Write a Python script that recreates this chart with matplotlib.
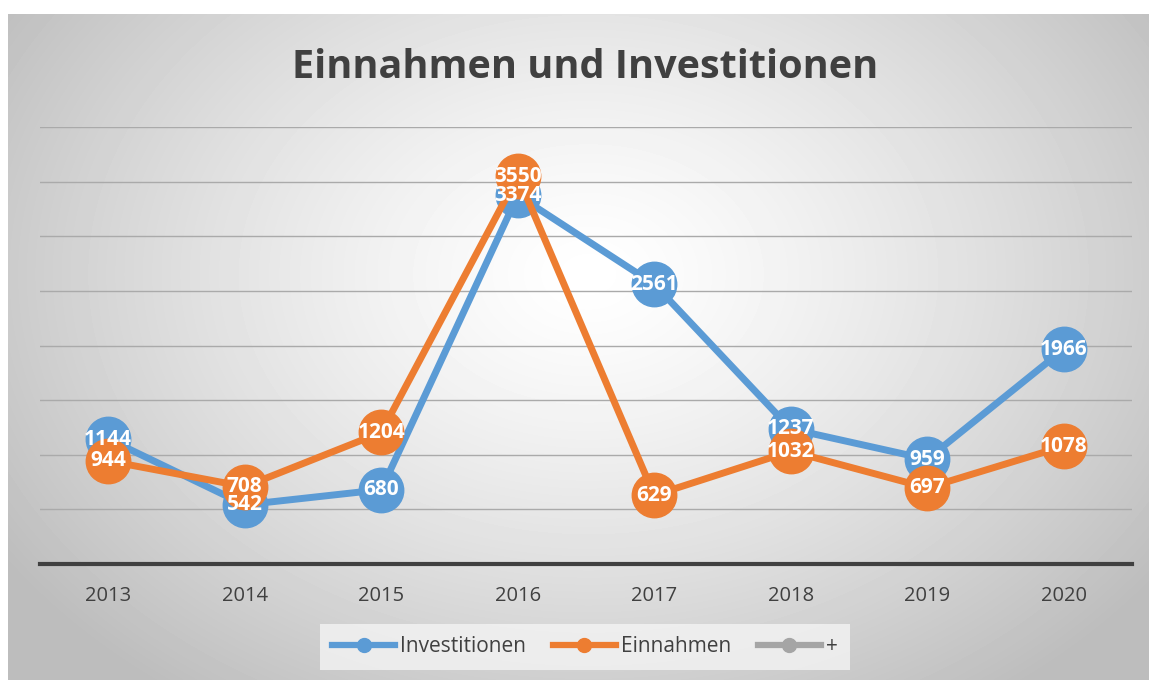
import numpy as np
import matplotlib.pyplot as plt
from matplotlib.lines import Line2D

years = ["2013", "2014", "2015", "2016", "2017", "2018", "2019", "2020"]
investitionen = [1144, 542, 680, 3374, 2561, 1237, 959, 1966]
einnahmen = [944, 708, 1204, 3550, 629, 1032, 697, 1078]

blue = "#5B9BD5"
orange = "#ED7D31"
gray = "#A5A5A5"
txt = "#404040"

plt.rcParams["font.family"] = ["Open Sans", "DejaVu Sans"]

W, H = 1149, 680
fig = plt.figure(figsize=(W / 100, H / 100), dpi=100)

# radial gradient background of the chart area
bg = fig.add_axes([8 / W, 0, 1 - 8 / W, (H - 14) / H])
yy, xx = np.mgrid[0:666, 0:1141]
d = np.sqrt(((xx - 580) / 700.0) ** 2 + ((yy - 260) / 520.0) ** 2)
shade = np.clip(1.0 - 0.26 * d ** 1.3, 0.74, 1.0)
bg.imshow(shade, cmap="gray", vmin=0, vmax=1, aspect="auto", interpolation="bilinear")
bg.axis("off")

ax = fig.add_axes([40 / W, 1 - 564 / H, 1092 / W, (564 - 127) / H])
ax.patch.set_visible(False)
x = np.arange(len(years))

ax.plot(x, investitionen, color=blue, lw=5, marker="o", ms=32, zorder=3,
        solid_capstyle="round")
ax.plot(x, einnahmen, color=orange, lw=5, marker="o", ms=32, zorder=4,
        solid_capstyle="round")

for i, v in enumerate(investitionen):
    ax.text(i, v, str(v), ha="center", va="center", color="white",
            fontsize=15, fontweight="bold", zorder=6)
for i, v in enumerate(einnahmen):
    ax.text(i, v, str(v), ha="center", va="center", color="white",
            fontsize=15, fontweight="bold", zorder=6)

ax.set_xlim(-0.5, len(years) - 0.5)
ax.set_ylim(0, 4000)
ax.set_yticks(np.arange(500, 4001, 500))
ax.yaxis.grid(True, color="#aaaaaa", lw=1)
ax.set_axisbelow(True)
ax.tick_params(axis="y", left=False, labelleft=False)
ax.set_xticks(x)
ax.set_xticklabels(years, fontsize=14.5, color=txt)
ax.tick_params(axis="x", length=0, pad=16)
for s in ["top", "right", "left"]:
    ax.spines[s].set_visible(False)
ax.spines["bottom"].set_color("#404040")
ax.spines["bottom"].set_linewidth(3)

fig.text(585 / W, 1 - 68 / H, "Einnahmen und Investitionen", ha="center",
         va="center", fontsize=28.5, fontweight="bold", color=txt)

handles = [Line2D([], [], color=c, lw=4.5, marker="o", ms=10) for c in (blue, orange, gray)]
leg = fig.legend(handles, ["Investitionen", "Einnahmen", "+"], loc="center",
                 bbox_to_anchor=(585 / W, 1 - 647 / H), ncol=3, frameon=True,
                 fontsize=15, handlelength=3.0, handletextpad=0.25,
                 columnspacing=1.3, borderpad=0.6)
leg.get_frame().set_facecolor("#f4f4f4")
leg.get_frame().set_edgecolor("none")
leg.get_frame().set_alpha(0.8)
leg.get_frame().set_boxstyle("square", pad=0)
for t in leg.get_texts():
    t.set_color(txt)

fig.savefig("out.png", dpi=100, facecolor="white")
